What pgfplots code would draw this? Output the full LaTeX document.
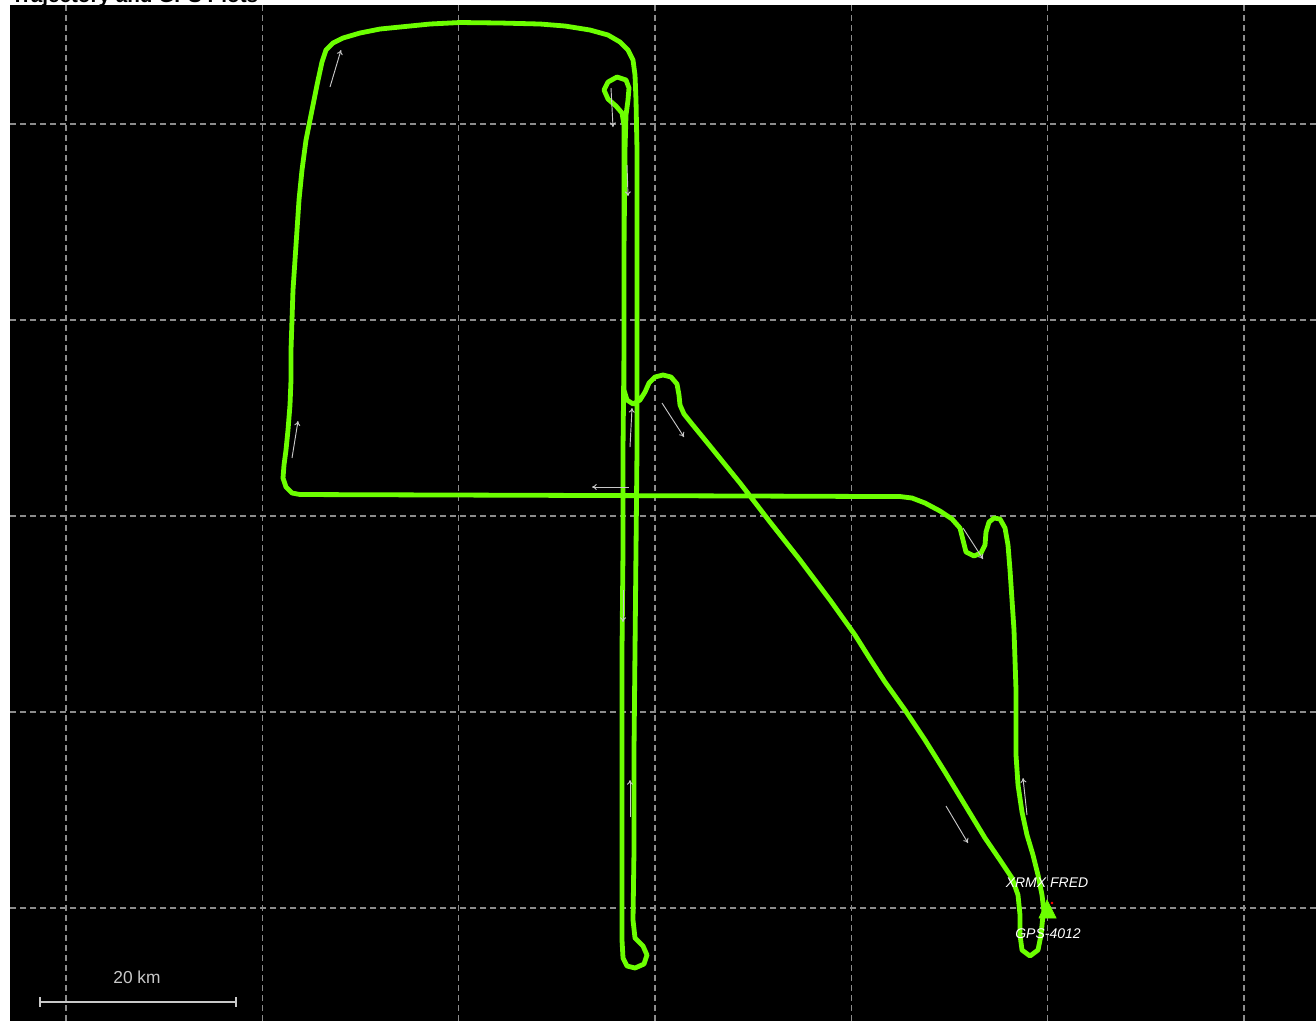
\documentclass[border=0pt]{standalone}
\usepackage{pgfplots}
\pgfplotsset{compat=1.18}
\usepackage{fontspec}
\setmainfont{Liberation Sans}
\usetikzlibrary{arrows.meta}

\definecolor{trk}{RGB}{108,255,0}
\definecolor{grd}{RGB}{140,140,140}
\definecolor{arw}{RGB}{200,200,200}

\begin{document}
\begin{tikzpicture}[x=0.75pt,y=0.75pt]
\useasboundingbox (0,0) rectangle (1316,-1021);
\clip (0,0) rectangle (1316,-1021);
% title, cut off by the top edge as in the screenshot
\node[anchor=base west, inner sep=0pt, font=\fontsize{15.5}{18}\selectfont\bfseries] at (11,-2.5) {Trajectory and GPS Plots};
\begin{axis}[
    at={(7.5pt,-3.75pt)}, anchor=north west,
    scale only axis, width=979.5pt, height=762pt,
    xmin=10, xmax=1316, ymin=5, ymax=1021,
    y dir=reverse,
    axis background/.style={fill=black},
    axis line style={draw=none},
    major tick length=0pt,
    xtick={66,262.3,458.6,655,851.3,1047.6,1244},
    ytick={124,320,516,712,908},
    xticklabels={}, yticklabels={},
    grid=major,
    grid style={grd, line width=1.2pt, dash pattern=on 4.5pt off 3pt},
    arr/.style={arw, line width=0.7pt, -{To[length=3.5pt,width=4.5pt]}},
]

% flight track (pixel coordinates)
\addplot[trk, line width=3.6pt, line join=round, line cap=round] coordinates {
(1044,912) (1042,895) (1038,875) (1033,855) (1027,835) (1022,812) (1018,785)
(1016,755) (1016,720) (1016,690) (1015,660) (1014,630) (1012,600) (1010,570)
(1008,545) (1005,528) (1000,519) (994,518) (989,522) (986,532) (985,545)
(981,553) (974,556) (966,552) (963,540) (960,528) (952,519) (940,511)
(925,503) (912,498) (900,496.5) (880,496.5) (750,496) (600,495.5) (300,494.5)
(292,493) (286,487) (283,478) (284,465) (286,450) (288,430) (290,405)
(291,380) (291,350) (292,320) (293,290) (295,260) (297,230) (299,200)
(302,170) (306,140) (312,110) (317,85) (322,62) (326,50) (333,43) (343,38)
(360,33) (380,29) (400,27) (430,24) (460,22.5) (500,23) (540,24) (565,26)
(590,30) (608,35) (620,42) (628,50) (633,60) (635,75) (636,100) (637,150)
(637,250) (637,350) (637,450) (636,550) (635,650) (634,750) (634,850)
(633,920) (635,938) (643,946) (647,955) (644,964) (635,968) (627,966)
(623,958) (622,940) (622,850) (622,750) (622,650) (623,550) (623,450)
(624,350) (624,250) (625,150) (626,115) (628,100) (629,88) (626,80)
(617,77) (608,82) (604,90) (608,99) (616,106) (622,113) (624,125)
(624,200) (624,300) (624,390) (627,400) (633,404) (640,400) (645,392)
(649,383) (655,377) (663,375) (671,377) (677,384) (679,395) (680,405)
(684,414) (692,424) (710,446) (740,483) (770,522) (800,560) (830,600)
(855,635) (872,662) (885,682) (905,710) (925,740) (945,772) (965,805)
(985,838) (1000,860) (1012,878) (1018,895) (1020,915) (1020,935)
(1022,950) (1030,956) (1038,950) (1041,935) (1043,915)
};

% direction arrows
\addplot[arr] coordinates {(330,87) (341,50)};
\addplot[arr] coordinates {(611,88) (613,127)};
\addplot[arr] coordinates {(627,165) (628,196)};
\addplot[arr] coordinates {(662,403) (684,437)};
\addplot[arr] coordinates {(630,447) (632,408)};
\addplot[arr] coordinates {(629,487) (592,487)};
\addplot[arr] coordinates {(292,458) (298,421)};
\addplot[arr] coordinates {(963,528) (983,559)};
\addplot[arr] coordinates {(946,806) (968,843)};
\addplot[arr] coordinates {(1027,815) (1023,778)};
\addplot[arr] coordinates {(623,590) (623,622)};
\addplot[arr] coordinates {(630,817) (630,780)};

% aircraft position
\addplot[fill=trk, draw=trk, line width=0.5pt] coordinates {(1039,918) (1047,900) (1056,918)} -- cycle;
\addplot[only marks, mark=*, mark size=0.8pt, red] coordinates {(1052,903)};
\node[white, font=\fontsize{10.5}{12}\selectfont\itshape] at (axis cs:1047,883) {XRMX FRED};
\node[white, font=\fontsize{10.5}{12}\selectfont\itshape] at (axis cs:1048,934) {GPS-4012};

% scale bar
\addplot[arw, line width=1.5pt] coordinates {(40,1002) (236,1002)};
\addplot[arw, line width=1.5pt] coordinates {(40,997) (40,1007)};
\addplot[arw, line width=1.5pt] coordinates {(236,997) (236,1007)};
\node[arw, font=\fontsize{13}{15}\selectfont] at (axis cs:137,977) {20 km};

\end{axis}
\end{tikzpicture}
\end{document}
